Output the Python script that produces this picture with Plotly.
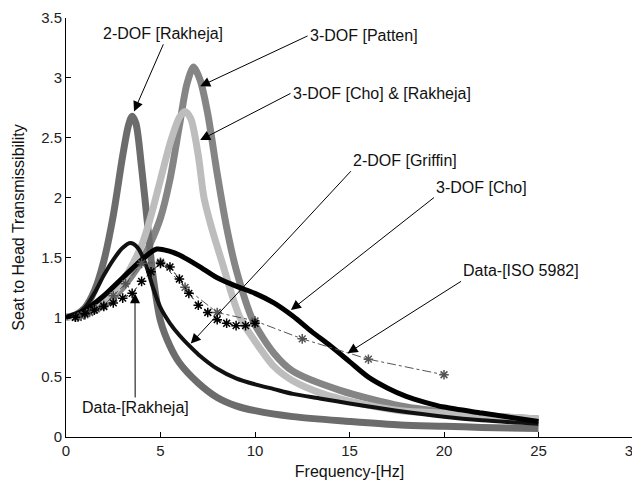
import plotly.graph_objects as go

# ---- data ----
rak2_f = [0, 0.5, 1, 1.5, 2, 2.5, 3, 3.3, 3.5, 3.7, 4.0, 4.3, 4.6, 5.0, 5.5, 6, 7, 8, 9, 10, 12, 15, 17.7, 20, 22, 25]
rak2_v = [1.0, 1.02, 1.08, 1.22, 1.47, 1.85, 2.35, 2.6, 2.68, 2.62, 2.25, 1.8, 1.35, 0.97, 0.76, 0.62, 0.45, 0.33, 0.26, 0.22, 0.17, 0.13, 0.10, 0.09, 0.08, 0.07]

patten_f = [0, 1, 2, 3, 4, 4.5, 5, 5.5, 6, 6.4, 6.75, 7.1, 7.5, 8, 8.5, 9, 9.9, 11, 12, 14.5, 17.7, 20, 22, 25]
patten_v = [1.0, 1.03, 1.1, 1.25, 1.47, 1.63, 1.83, 2.15, 2.6, 2.95, 3.09, 2.98, 2.7, 2.2, 1.75, 1.4, 0.97, 0.7, 0.55, 0.39, 0.26, 0.21, 0.18, 0.15]

choRak_f = [0, 1, 2, 3, 4, 4.5, 5, 5.5, 6, 6.3, 6.6, 7, 7.3, 7.7, 8.2, 9.2, 10, 11, 12, 13.6, 15, 17.7, 20, 22, 25]
choRak_v = [1.0, 1.03, 1.12, 1.3, 1.6, 1.85, 2.15, 2.45, 2.67, 2.72, 2.66, 2.35, 2.0, 1.75, 1.49, 1.0, 0.8, 0.59, 0.47, 0.36, 0.3, 0.22, 0.2, 0.18, 0.15]

griffin_f = [0, 0.5, 1, 1.5, 2, 2.5, 3, 3.4, 3.8, 4.2, 4.6, 5, 5.5, 6, 6.6, 7, 8, 9, 10, 11, 12, 13.5, 15, 17.5, 20, 22, 25]
griffin_v = [1.0, 1.02, 1.08, 1.2, 1.35, 1.48, 1.58, 1.62, 1.58, 1.45, 1.25, 1.08, 0.95, 0.85, 0.75, 0.69, 0.57, 0.49, 0.44, 0.4, 0.36, 0.32, 0.28, 0.22, 0.17, 0.14, 0.11]

cho3_f = [0, 1, 2, 3, 4, 4.8, 5.5, 6, 7, 8, 9, 10, 11, 12, 13, 14, 15, 16, 17, 18, 19, 20, 22, 25]
cho3_v = [1.0, 1.06, 1.18, 1.33, 1.48, 1.57, 1.55, 1.52, 1.43, 1.33, 1.26, 1.2, 1.12, 1.01, 0.88, 0.76, 0.63, 0.5, 0.41, 0.34, 0.29, 0.25, 0.2, 0.13]

iso_f = [0.5, 0.63, 0.8, 1, 1.25, 1.6, 2, 2.5, 3.15, 4, 5, 6.3, 8, 10, 12.5, 16, 20]
iso_v = [1.0, 1.0, 1.01, 1.02, 1.04, 1.07, 1.1, 1.18, 1.28, 1.45, 1.46, 1.25, 1.04, 0.97, 0.82, 0.65, 0.52]

datRak_f = [0.5, 1, 1.5, 2, 2.5, 3, 3.5, 4, 4.5, 5, 5.5, 6, 6.5, 7, 7.5, 8, 8.5, 9, 9.5, 10]
datRak_v = [1.0, 1.03, 1.06, 1.09, 1.12, 1.16, 1.2, 1.3, 1.38, 1.45, 1.42, 1.32, 1.2, 1.1, 1.04, 0.98, 0.95, 0.93, 0.93, 0.95]

x_ticks = [0, 5, 10, 15, 20, 25, 30]
y_ticks = [0, 0.5, 1, 1.5, 2, 2.5, 3, 3.5]
y_tick_text = ["0", "0.5", "1", "1.5", "2", "2.5", "3", "3.5"]

# annotations: (text, tip_f, tip_v, tail_f, tail_v, xanchor, yanchor)
notes = [
    ("2-DOF [Rakheja]", 3.6, 2.72, 5.15, 3.28, "center", "bottom"),
    ("3-DOF [Patten]", 7.1, 2.93, 12.78, 3.35, "left", "middle"),
    ("3-DOF [Cho] & [Rakheja]", 7.1, 2.48, 11.88, 2.87, "left", "middle"),
    ("2-DOF [Griffin]", 6.6, 0.78, 15.07, 2.22, "left", "bottom"),
    ("3-DOF [Cho]", 11.9, 1.06, 19.47, 2.0, "left", "bottom"),
    ("Data-[ISO 5982]", 14.9, 0.70, 20.9, 1.30, "left", "bottom"),
    ("Data-[Rakheja]", 3.65, 1.2, 3.66, 0.33, "center", "top"),
]

FONT = "Liberation Sans, Arial"

fig = go.Figure()
fig.add_trace(go.Scatter(x=patten_f, y=patten_v, mode="lines", line=dict(color="#858585", width=7, shape="spline", smoothing=0.8)))
fig.add_trace(go.Scatter(x=rak2_f, y=rak2_v, mode="lines", line=dict(color="#6c6c6c", width=7, shape="spline", smoothing=0.8)))
fig.add_trace(go.Scatter(x=choRak_f, y=choRak_v, mode="lines", line=dict(color="#bdbdbd", width=7, shape="spline", smoothing=0.8)))
fig.add_trace(go.Scatter(x=griffin_f, y=griffin_v, mode="lines", line=dict(color="#111111", width=4, shape="spline", smoothing=0.8)))
fig.add_trace(go.Scatter(x=cho3_f, y=cho3_v, mode="lines", line=dict(color="#000000", width=5, shape="spline", smoothing=0.8)))
fig.add_trace(go.Scatter(x=iso_f, y=iso_v, mode="lines+markers",
                         line=dict(color="#555555", width=1, dash="dashdot"),
                         marker=dict(symbol="asterisk-open", size=8, color="#555555", line=dict(width=1.5, color="#555555"))))
fig.add_trace(go.Scatter(x=datRak_f, y=datRak_v, mode="lines+markers",
                         line=dict(color="#000000", width=1, dash="dot"),
                         marker=dict(symbol="asterisk-open", size=8, color="#000000", line=dict(width=1.5, color="#000000"))))

for txt, tf, tv, xf, xv, xa, ya in notes:
    fig.add_annotation(x=tf, y=tv, ax=xf, ay=xv, xref="x", yref="y", axref="x", ayref="y",
                       xanchor=xa, yanchor=ya,
                       text=txt, showarrow=True, arrowhead=2, arrowsize=2, arrowwidth=1,
                       arrowcolor="#000000", font=dict(family=FONT, size=16, color="#111111"))

axis_common = dict(showgrid=False, zeroline=False, showline=True, linecolor="#000000", linewidth=1,
                   ticks="inside", ticklen=5, tickcolor="#000000", mirror=False, automargin=False,
                   ticklabeloverflow="allow",
                   tickfont=dict(family=FONT, size=15, color="#222222"))
fig.update_xaxes(range=[0, 30], tickvals=x_ticks, ticktext=[str(t) for t in x_ticks],
                 title=dict(text="Frequency-[Hz]", font=dict(family=FONT, size=16, color="#111111"), standoff=7),
                 **axis_common)
fig.update_yaxes(range=[0, 3.5], tickvals=y_ticks, ticktext=y_tick_text,
                 title=dict(text="Seat to Head Transmissibility", font=dict(family=FONT, size=16, color="#111111"), standoff=12),
                 **axis_common)
# the page body has an 8px margin, so the figure is sized/offset to land the plot area where the reference has it
fig.update_layout(width=632, height=475, showlegend=False, plot_bgcolor="white", paper_bgcolor="white",
                  margin=dict(l=58, r=7, t=10, b=46, autoexpand=False))
fig.write_html("out.html")
